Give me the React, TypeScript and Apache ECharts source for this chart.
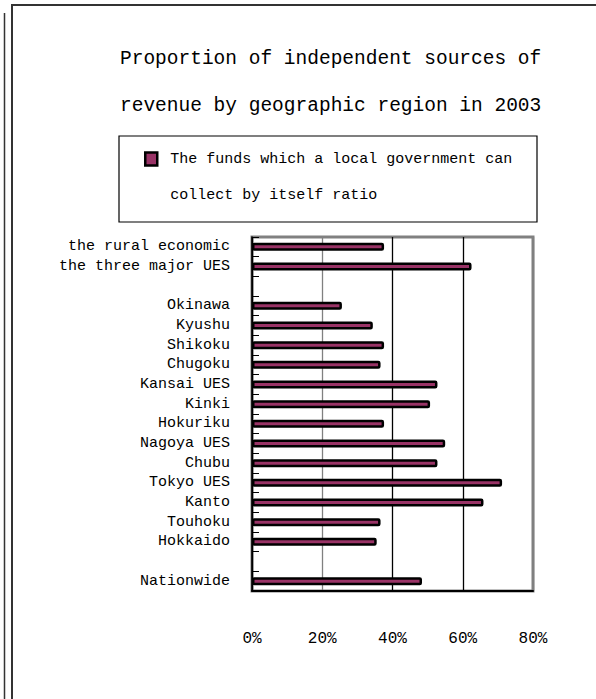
import React, { useEffect, useRef } from 'react';
import * as echarts from 'echarts';

const categories = [
  'the rural economic',
  'the three major UES',
  ' ',
  'Okinawa',
  'Kyushu',
  'Shikoku',
  'Chugoku',
  'Kansai UES',
  'Kinki',
  'Hokuriku',
  'Nagoya UES',
  'Chubu',
  'Tokyo UES',
  'Kanto',
  'Touhoku',
  'Hokkaido',
  '  ',
  'Nationwide',
];
const values = [37.6, 62.5, null, 25.6, 34.4, 37.6, 36.6, 52.8, 50.7, 37.6, 55.0, 52.8, 71.2, 65.9, 36.6, 35.5, null, 48.4];
const xMin = 0;
const xMax = 80;
const xInterval = 20;
const titleLines = ['Proportion of independent sources of', 'revenue by geographic region in 2003'];
const seriesName = 'The funds which a local government can collect by itself ratio';
const legendLines = ['The funds which a local government can', 'collect by itself ratio'];

const FONT = '"Liberation Mono", "DejaVu Sans Mono", monospace';

export default function App() {
  const ref = useRef<HTMLDivElement>(null);
  useEffect(() => {
    if (!ref.current) return;
    const chart = echarts.init(ref.current, null, { renderer: 'svg' });
    chart.setOption({
      animation: false,
      backgroundColor: '#fff',
      title: {
        text: titleLines.join('\n'),
        left: 120,
        top: 35,
        padding: 0,
        textStyle: {
          fontFamily: FONT,
          fontSize: 19.5,
          fontWeight: 'normal',
          color: '#000',
          lineHeight: 47,
        },
      },
      legend: {
        left: 144,
        top: 105,
        padding: 0,
        itemWidth: 12,
        itemHeight: 13,
        icon: 'rect',
        itemStyle: { color: '#993366', borderColor: '#000', borderWidth: 2.5 },
        formatter: () => '\n' + legendLines.join('\n'),
        textStyle: {
          fontFamily: FONT,
          fontSize: 15,
          color: '#000',
          lineHeight: 36,
          padding: [0, 0, 0, 8],
        },
        data: [seriesName],
      },
      graphic: [
        {
          type: 'line',
          shape: { x1: 4.5, y1: 13, x2: 4.5, y2: 699 },
          style: { stroke: '#333', lineWidth: 1.5 },
          silent: true,
        },
        {
          type: 'rect',
          shape: { x: 12, y: 5, width: 620, height: 720 },
          style: { stroke: '#333', lineWidth: 2, fill: 'none' },
          silent: true,
        },
        {
          type: 'rect',
          shape: { x: 119, y: 136, width: 418, height: 86 },
          style: { stroke: '#000', lineWidth: 1.2, fill: 'none' },
          silent: true,
        },
      ],
      grid: {
        left: 252,
        top: 237,
        right: 63,
        bottom: 108,
        show: true,
        backgroundColor: '#fff',
        borderColor: '#808080',
        borderWidth: 3,
      },
      xAxis: {
        type: 'value',
        min: xMin,
        max: xMax,
        interval: xInterval,
        position: 'bottom',
        axisLine: { show: true, lineStyle: { color: '#000', width: 2 } },
        axisTick: { show: false },
        axisLabel: {
          formatter: '{value}%',
          fontFamily: FONT,
          fontSize: 16,
          color: '#000',
          margin: 40,
        },
        splitLine: {
          show: true,
          lineStyle: { color: ['#000', '#808080', '#000', '#000', '#808080'], width: 1.3 },
        },
      },
      yAxis: {
        type: 'category',
        data: categories,
        inverse: true,
        axisLine: { show: true, lineStyle: { color: '#000', width: 1.5 } },
        axisTick: { show: true, inside: true, length: 7, lineStyle: { color: '#000', width: 1 } },
        axisLabel: {
          fontFamily: FONT,
          fontSize: 15,
          color: '#000',
          margin: 22,
        },
        splitLine: { show: false },
      },
      series: [
        {
          name: seriesName,
          type: 'bar',
          data: values,
          barWidth: 8,
          itemStyle: { color: '#993366', borderColor: '#000', borderWidth: 2.5, borderRadius: 1 },
        },
      ],
    });
    return () => chart.dispose();
  }, []);
  return (
    <div
      ref={ref}
      style={{ position: 'fixed', left: 0, top: 0, width: 596, height: 699 }}
    />
  );
}
